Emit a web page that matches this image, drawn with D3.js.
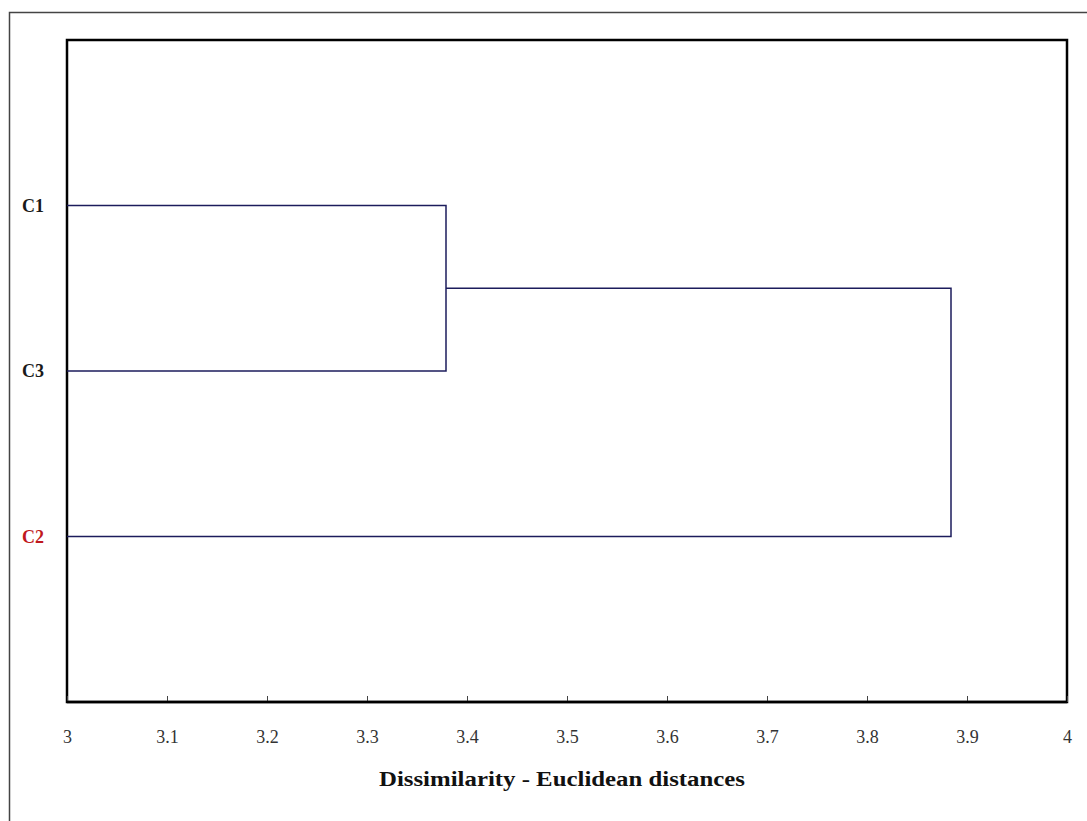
<!DOCTYPE html>
<html><head><meta charset="utf-8">
<script src="https://cdn.jsdelivr.net/npm/d3@7"></script>
<style>body{margin:0;background:#fff;} svg{display:block;}</style>
</head><body>
<svg id="c" width="1087" height="821"></svg>
<script>
// Data
const leaves = ["C1", "C3", "C2"];
const leafColors = ["#1a1a1a", "#1a1a1a", "#c0181d"];
// merges: [leftNode, rightNode, height]; nodes 0..2 are leaves, 3.. are merges
const merges = [[0, 1, 3.379], [3, 2, 3.884]];
const xTicks = [3, 3.1, 3.2, 3.3, 3.4, 3.5, 3.6, 3.7, 3.8, 3.9, 4];
const xDomain = [3, 4];
const xTitle = "Dissimilarity - Euclidean distances";

const svg = d3.select("#c");
const L = 67, R = 1067, T = 40, B = 702;
const x = d3.scaleLinear().domain(xDomain).range([L, R]);
const y = d3.scalePoint().domain(d3.range(leaves.length + 2)).range([T, B]);

// outer frame
svg.append("rect").attr("x", 9.5).attr("y", 12.5).attr("width", 1090).attr("height", 820)
  .attr("fill", "none").attr("stroke", "#444").attr("stroke-width", 1.5);

// plot frame
svg.append("rect").attr("x", L).attr("y", T).attr("width", R - L).attr("height", B - T)
  .attr("fill", "none").attr("stroke", "#000").attr("stroke-width", 2.5);

// axis
const ax = svg.append("g").attr("transform", `translate(0,${B})`)
  .call(d3.axisBottom(x).tickValues(xTicks).tickSize(0).tickFormat(d3.format("")));
ax.select(".domain").remove();
ax.selectAll(".tick line").remove();
ax.selectAll(".tick").append("line").attr("y1", -6).attr("y2", 0).attr("stroke", "#444").attr("stroke-width", 1);
ax.selectAll("text").attr("dy", 0).attr("y", 41)
  .attr("font-family", "'Liberation Serif', 'DejaVu Serif', serif").attr("font-size", 18).attr("fill", "#333");
svg.append("line").attr("x1", L).attr("x2", R).attr("y1", B).attr("y2", B).attr("stroke", "#000").attr("stroke-width", 2.5);

// axis title
svg.append("text").attr("x", 562).attr("y", 786).attr("text-anchor", "middle")
  .attr("font-family", "'Liberation Serif', serif").attr("font-weight", "bold").attr("font-size", 20)
  .attr("textLength", 366).attr("lengthAdjust", "spacingAndGlyphs")
  .attr("fill", "#111").text(xTitle);

// leaf labels
leaves.forEach((name, i) => {
  svg.append("text").attr("x", 22).attr("y", y(i + 1)).attr("dy", "0.35em")
    .attr("font-family", "'Liberation Serif', serif").attr("font-weight", "bold").attr("font-size", 18)
    .attr("fill", leafColors[i]).text(name);
});

// dendrogram
const nodes = leaves.map((_, i) => ({ x: x(xDomain[0]), y: y(i + 1) }));
const col = "#1c1c5c";
merges.forEach(([a, b, h]) => {
  const na = nodes[a], nb = nodes[b], hx = x(h);
  const path = d3.path();
  path.moveTo(na.x, na.y); path.lineTo(hx, na.y); path.lineTo(hx, nb.y); path.lineTo(nb.x, nb.y);
  svg.append("path").attr("d", path.toString()).attr("fill", "none").attr("stroke", col).attr("stroke-width", 1.5);
  nodes.push({ x: hx, y: (na.y + nb.y) / 2 });
});
</script>
</body></html>
